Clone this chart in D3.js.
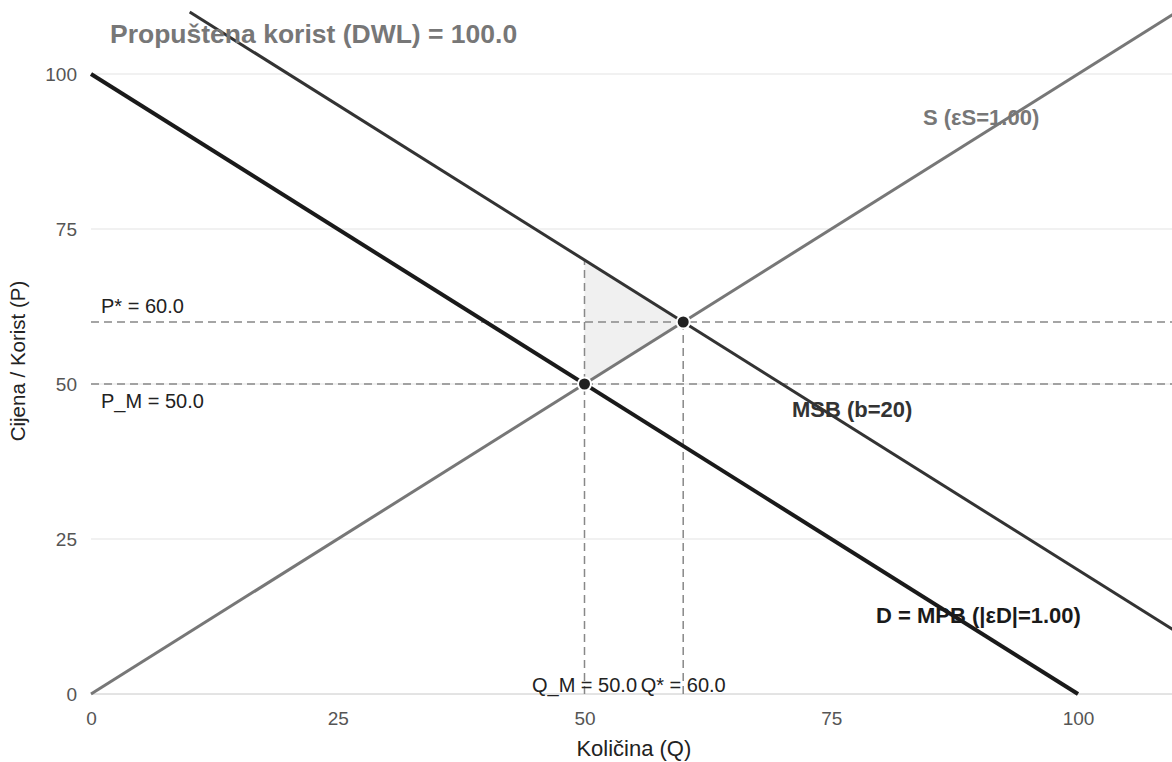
<!DOCTYPE html>
<html>
<head>
<meta charset="utf-8">
<script src="https://cdn.jsdelivr.net/npm/d3@7"></script>
<style>
  body { margin: 0; background: #fff; font-family: "Liberation Sans", Arial, sans-serif; overflow: hidden; }
  svg text { font-family: "Liberation Sans", Arial, sans-serif; }
</style>
</head>
<body>
<div id="chart"></div>
<script>
// curve definitions (Q endpoints, P values)
const demandPts = [[0, 100], [100, 0]];
const msbPts = [[10, 110], [110, 10]];
const supplyPts = [[0, 0], [110, 110]];
const dwlPts = [[50, 50], [50, 70], [60, 60]];
const equilibria = [[50, 50], [60, 60]];
const yTicks = [0, 25, 50, 75, 100];
const xTicks = [0, 25, 50, 75, 100];
const title = "Propuštena korist (DWL) = 100.0";

const width = 1172, height = 762;
const margin = { left: 91, top: 12, bottom: 68 };

const svg = d3.select("#chart").append("svg")
    .attr("width", width)
    .attr("height", height);

const x = d3.scaleLinear().domain([0, 110]).range([margin.left, margin.left + 9.87 * 110]);
const y = d3.scaleLinear().domain([0, 110]).range([height - margin.bottom, margin.top]);

// gridlines
svg.append("g").selectAll("line")
    .data(yTicks.filter(d => d > 0))
    .enter().append("line")
    .attr("x1", x(0)).attr("x2", width)
    .attr("y1", d => y(d)).attr("y2", d => y(d))
    .attr("stroke", "#e3e3e3").attr("stroke-width", 1);

// x axis
const xAxis = svg.append("g")
    .attr("transform", `translate(0,${y(0)})`)
    .call(d3.axisBottom(x).tickValues(xTicks).tickSize(0).tickPadding(18));
xAxis.select(".domain").attr("stroke", "#c8c8c8").attr("d", `M${x(0)},0H${width}`);
xAxis.selectAll("text").attr("fill", "#555").style("font-size", "19px");

// y axis
const yAxis = svg.append("g")
    .attr("transform", `translate(${x(0)},0)`)
    .call(d3.axisLeft(y).tickValues(yTicks).tickSize(0).tickPadding(14));
yAxis.select(".domain").remove();
yAxis.selectAll("text").attr("fill", "#555").style("font-size", "19px");

// axis titles
svg.append("text")
    .attr("x", (x(0) + x(110)) / 2).attr("y", 756)
    .attr("text-anchor", "middle")
    .attr("fill", "#222").style("font-size", "22px")
    .text("Količina (Q)");
svg.append("text")
    .attr("transform", `translate(25,361) rotate(-90)`)
    .attr("text-anchor", "middle")
    .attr("fill", "#222").style("font-size", "20.5px")
    .text("Cijena / Korist (P)");

// DWL triangle
svg.append("path")
    .attr("d", d3.line().x(d => x(d[0])).y(d => y(d[1]))(dwlPts) + "Z")
    .attr("fill", "#f0f0f0");

// guide lines
const dash = "8,5";
[60, 50].forEach(p => {
    svg.append("line")
        .attr("x1", x(0)).attr("x2", width)
        .attr("y1", y(p)).attr("y2", y(p))
        .attr("stroke", "#888").attr("stroke-width", 1.5).attr("stroke-dasharray", dash);
});
svg.append("line")
    .attr("x1", x(50)).attr("x2", x(50))
    .attr("y1", y(0)).attr("y2", y(70))
    .attr("stroke", "#888").attr("stroke-width", 1.5).attr("stroke-dasharray", dash);
svg.append("line")
    .attr("x1", x(60)).attr("x2", x(60))
    .attr("y1", y(0)).attr("y2", y(60))
    .attr("stroke", "#888").attr("stroke-width", 1.5).attr("stroke-dasharray", dash);

// curves
const line = d3.line().x(d => x(d[0])).y(d => y(d[1]));
svg.append("path").attr("d", line(supplyPts))
    .attr("stroke", "#777").attr("stroke-width", 3).attr("fill", "none");
svg.append("path").attr("d", line(msbPts))
    .attr("stroke", "#333").attr("stroke-width", 3).attr("fill", "none");
svg.append("path").attr("d", line(demandPts))
    .attr("stroke", "#1a1a1a").attr("stroke-width", 4).attr("fill", "none");

// equilibrium points
svg.selectAll("circle.eq")
    .data(equilibria)
    .enter().append("circle")
    .attr("class", "eq")
    .attr("cx", d => x(d[0])).attr("cy", d => y(d[1]))
    .attr("r", 6.5)
    .attr("fill", "#222").attr("stroke", "#fff").attr("stroke-width", 2);

// labels
const lbl = (tx, ty, text, opts = {}) => svg.append("text")
    .attr("x", tx).attr("y", ty)
    .attr("text-anchor", opts.anchor || "start")
    .attr("fill", opts.fill || "#222")
    .style("font-size", (opts.size || 20) + "px")
    .style("font-weight", opts.bold ? "bold" : "normal")
    .text(text);

lbl(x(0) + 10, 313, "P* = 60.0");
lbl(x(0) + 10, 408, "P_M = 50.0");
lbl(x(50), 692, "Q_M = 50.0", { anchor: "middle" });
lbl(x(60), 692, "Q* = 60.0", { anchor: "middle" });

lbl(923, 125, "S (εS=1.00)", { fill: "#777", bold: true, size: 22 });
lbl(792, 417, "MSB (b=20)", { fill: "#333", bold: true, size: 22 });
lbl(876, 623, "D = MPB (|εD|=1.00)", { fill: "#1a1a1a", bold: true, size: 22 });

svg.append("text")
    .attr("x", 110).attr("y", 43)
    .attr("fill", "#777")
    .style("font-size", "26.5px").style("font-weight", "bold")
    .text(title);
</script>
</body>
</html>
